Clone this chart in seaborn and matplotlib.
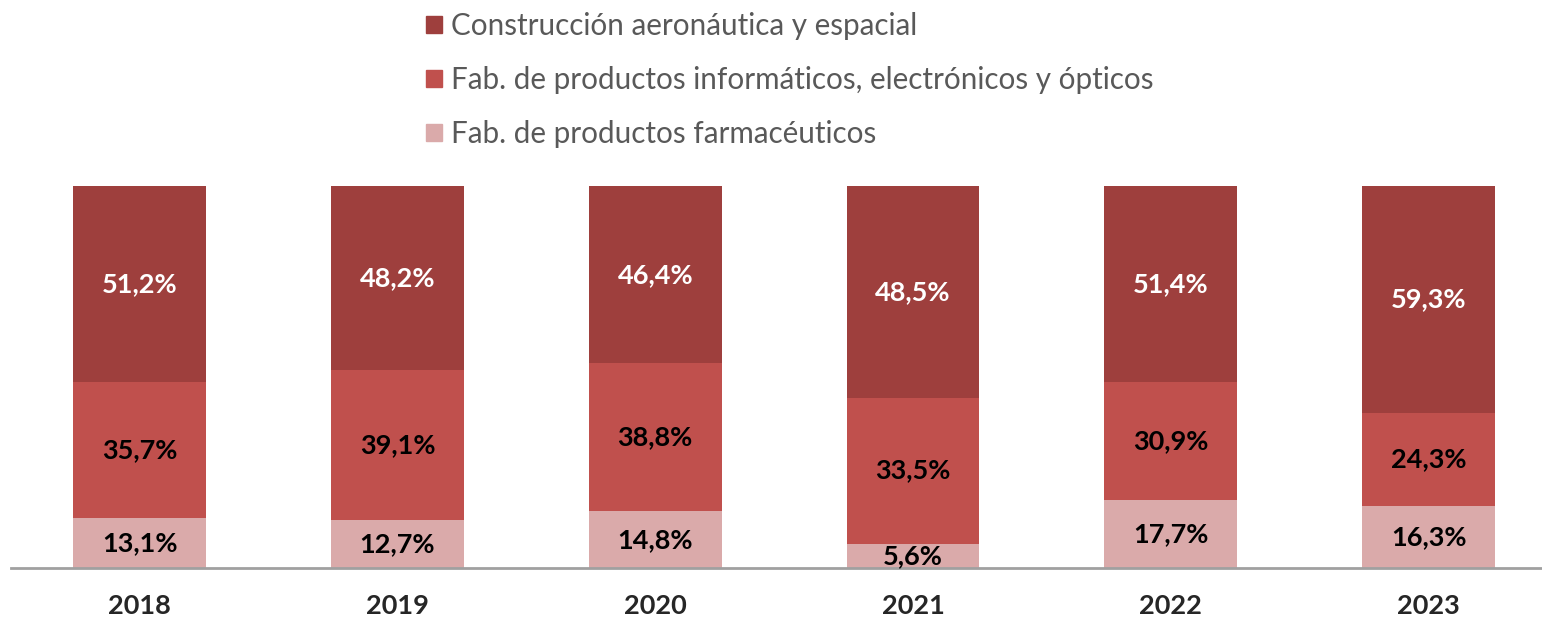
import matplotlib.pyplot as plt
import matplotlib.patches as mpatches
import seaborn as sns
import pandas as pd
import numpy as np

years = ["2018", "2019", "2020", "2021", "2022", "2023"]
farma = [13.1, 12.7, 14.8, 5.6, 17.7, 16.3]
informatica = [35.7, 39.1, 38.8, 33.5, 30.9, 24.3]
aeronautica = [51.2, 48.2, 46.4, 48.5, 51.4, 59.3]

names = ["Fab. de productos farmacéuticos",
         "Fab. de productos informáticos, electrónicos y ópticos",
         "Construcción aeronáutica y espacial"]
colors = ["#DAAAAA", "#C0504D", "#9E3F3D"]

sns.set_style("white")
plt.rcParams["font.family"] = ["Lato", "DejaVu Sans"]

raw = np.array([farma, informatica, aeronautica])
share = raw / raw.sum(axis=0) * 100
cum = np.cumsum(share, axis=0)

fig = plt.figure(figsize=(15.42, 6.17), dpi=100)
ax = fig.add_axes([0.007, 0.0794, 0.993, 0.619])

# draw cumulative bars from top layer down so each shows its own segment
for i in [2, 1, 0]:
    df = pd.DataFrame({"year": years, "v": cum[i]})
    sns.barplot(data=df, x="year", y="v", color=colors[i], width=0.515,
                saturation=1, ax=ax, linewidth=0)

for i in range(3):
    bottoms = cum[i] - share[i]
    for j in range(len(years)):
        txt = f"{raw[i, j]:.1f}%".replace(".", ",")
        ax.text(j, bottoms[j] + share[i, j] / 2, txt, ha="center", va="center",
                fontsize=19.5, fontweight="bold",
                color="white" if i == 2 else "black")

ax.set_ylim(0, 100)
ax.set_xlim(-0.5, 5.44)
ax.set_xlabel("")
ax.set_ylabel("")
ax.set_yticks([])
sns.despine(ax=ax, left=True)
ax.spines["bottom"].set_color("#A0A0A0")
ax.spines["bottom"].set_linewidth(2)
ax.tick_params(axis="x", length=0, pad=19, labelsize=19.5)
for lab in ax.get_xticklabels():
    lab.set_fontweight("bold")

handles = [mpatches.Patch(color=colors[i], label=names[i]) for i in [2, 1, 0]]
fig.legend(handles=handles, loc="upper left", bbox_to_anchor=(0.259, 1.024),
           frameon=False, fontsize=21.3, labelcolor="#595959",
           handlelength=0.53, handleheight=0.53, handletextpad=0.3,
           labelspacing=0.88)

fig.savefig("out.png", dpi=100)
